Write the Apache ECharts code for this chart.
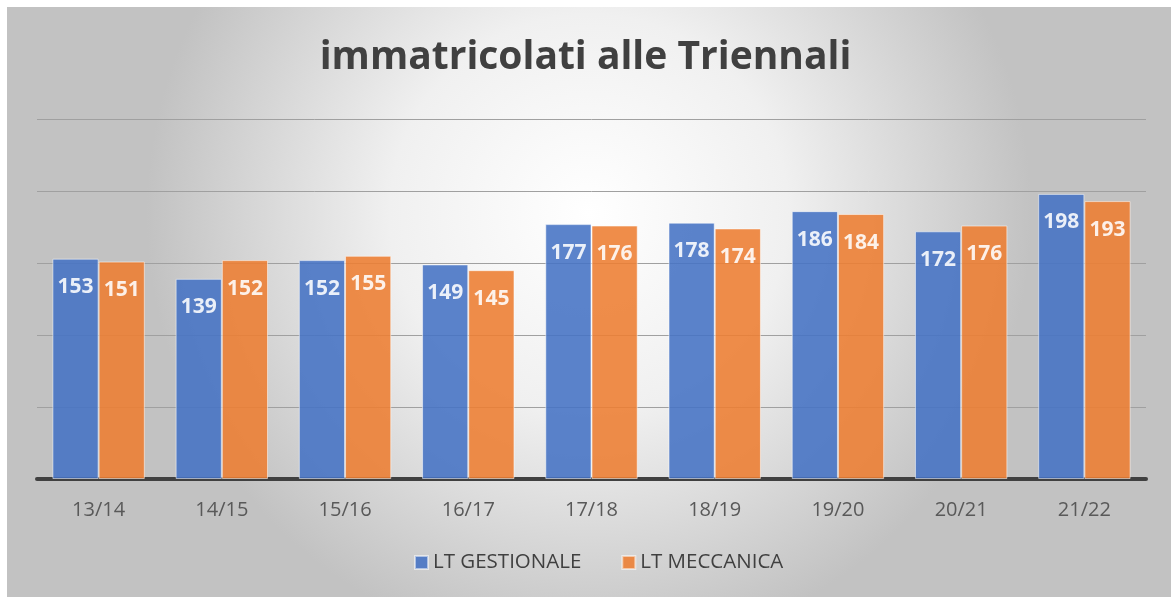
<!DOCTYPE html>
<html><head><meta charset="utf-8">
<script src="https://cdn.jsdelivr.net/npm/echarts@6/dist/echarts.min.js"></script>
<style>html,body{margin:0;padding:0;background:#fff}#c{width:1171px;height:599px}</style>
</head><body><div id="c"></div>
<script>
const categories = ['13/14','14/15','15/16','16/17','17/18','18/19','19/20','20/21','21/22'];
const gestionale = [153,139,152,149,177,178,186,172,198];
const meccanica = [151,152,155,145,176,174,184,176,193];
const seriesNames = ['LT GESTIONALE','LT MECCANICA'];
const titleText = 'immatricolati alle Triennali';

const chart = echarts.init(document.getElementById('c'));
const labelStyle = {show:true, position:'insideTop', distance:18, color:'#fff', fontWeight:'bold', fontSize:21, fontFamily:'Open Sans'};
chart.setOption({
  animation:false,
  graphic:[{type:'rect', z:-10, left:7, top:7, shape:{width:1164, height:590},
    style:{fill:new echarts.graphic.RadialGradient(0.5,0.35,0.75,[{offset:0,color:'#ffffff'},{offset:0.45,color:'#f0f0f0'},{offset:1,color:'#c2c2c2'}])}}],
  title:{text:titleText, left:'center', top:33, textStyle:{fontFamily:'Open Sans', fontWeight:'bold', fontSize:39, color:'#404040'}},
  grid:{left:37, right:25, top:119, bottom:120},
  legend:{bottom:21, left:409, itemWidth:13, itemHeight:13, itemGap:40, icon:'rect',
    textStyle:{fontFamily:'Open Sans', fontSize:20.5, color:'#404040'}},
  xAxis:{type:'category', data:categories,
    axisLine:{lineStyle:{color:'#404040', width:4}}, axisTick:{show:false},
    axisLabel:{fontFamily:'Open Sans', fontSize:20, color:'#595959', margin:21}},
  yAxis:{type:'value', min:0, max:250, interval:50, axisLabel:{show:false}, axisLine:{show:false}, axisTick:{show:false},
    splitLine:{lineStyle:{color:'#a0a0a0', width:1}}},
  series:[
    {name:seriesNames[0], type:'bar', data:gestionale, barGap:'0%', barCategoryGap:'25%',
      itemStyle:{color:'#4472C4', opacity:0.88, borderColor:'rgba(255,255,255,0.6)', borderWidth:1}, label:labelStyle},
    {name:seriesNames[1], type:'bar', data:meccanica,
      itemStyle:{color:'#ED7D31', opacity:0.88, borderColor:'rgba(255,255,255,0.6)', borderWidth:1}, label:labelStyle}
  ]
});
</script></body></html>
